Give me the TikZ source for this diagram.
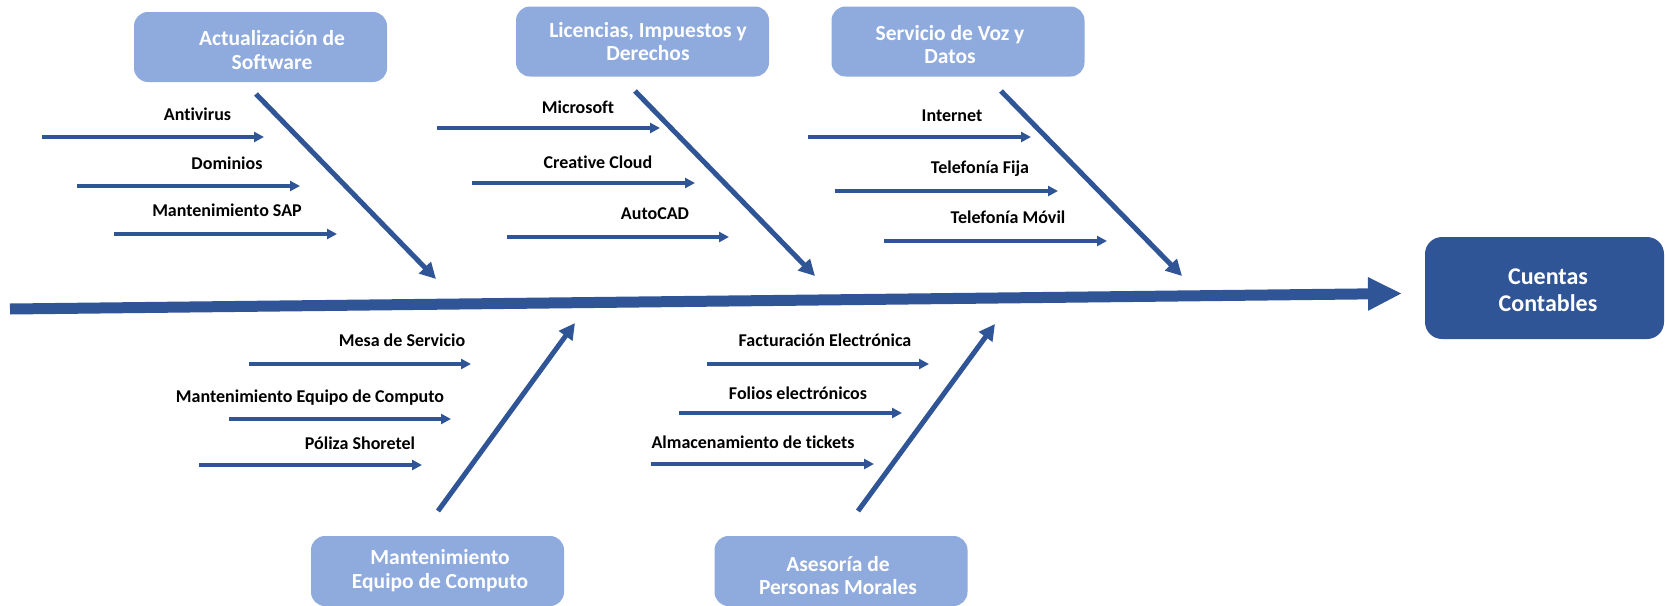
\documentclass[tikz,border=0pt]{standalone}
\usepackage{fontspec}
\setmainfont{Carlito}[Ligatures=NoCommon]
\usetikzlibrary{arrows.meta}
\definecolor{dblue}{HTML}{2F5597}
\definecolor{lblue}{HTML}{8FAADC}
\begin{document}
\begin{tikzpicture}[x=1pt,y=-1pt,
  catbox/.style={fill=lblue, draw=none, rounded corners=14pt, inner sep=0pt, minimum width=253pt, minimum height=70pt},
  effbox/.style={fill=dblue, draw=none, rounded corners=17pt, inner sep=0pt, minimum width=239pt, minimum height=102pt},
  cattext/.style={text=white, font=\fontsize{21.5}{23.5}\selectfont\bfseries, align=center, inner sep=0pt},
  efftext/.style={text=white, font=\fontsize{24}{26.5}\selectfont\bfseries, align=center, inner sep=0pt},
  lbl/.style={font=\fontsize{18}{20}\selectfont\bfseries, inner sep=0pt, anchor=base},
  sub/.style={draw=dblue, line width=3.2pt, -{Triangle[length=10pt,width=10pt]}},
  bone/.style={draw=dblue, line width=5pt, -{Triangle[length=16pt,width=16pt]}},
  spine/.style={draw=dblue, line width=11pt, -{Triangle[length=34pt,width=31pt]}}
]
\useasboundingbox (0,0) rectangle (1665,605);

% category boxes
\node[catbox] (bA) at (260.5,47) {};
\node[catbox] (bL) at (642.5,41.5) {};
\node[catbox] (bS) at (958,41.5) {};
\node[catbox] (bM) at (437.5,571) {};
\node[catbox] (bP) at (841,571) {};
\node[effbox] (bC) at (1544.5,288) {};

\node[cattext] (tA) at (272,50) {Actualización de\\Software};
\node[cattext] (tL) at (648,41.5) {Licencias, Impuestos y\\Derechos};
\node[cattext] (tS) at (950,44.5) {Servicio de Voz y\\Datos};
\node[cattext] (tM) at (440,570.5) {Mantenimiento\\Equipo de Computo};
\node[cattext] (tP) at (838,575.5) {Asesoría de\\Personas Morales};
\node[efftext] (tC) at (1548,290) {Cuentas\\Contables};

% spine
\coordinate (s0) at (10,309);
\coordinate (s1) at (1402,293.5);
\draw[spine] (s0) -- (s1);

% main bones
\foreach \n/\xa/\ya/\xb/\yb in {dA/256/94/436/279, dL/635/91/815/276, dS/1001/91/1182/276, dM/438/511/575/323, dP/858/511/995/324}{
  \coordinate (\n s) at (\xa,\ya);
  \coordinate (\n e) at (\xb,\yb);
  \draw[bone] (\n s) -- (\n e);
}

% sub causes
\foreach \n/\xa/\xb/\y in {a1/42/264/137, a2/77/300/186, a3/114/337/234,
  l1/437/660/128, l2/472/695/183, l3/507/729/237,
  s1/808/1031/137, s2/835/1058/191, s3/884/1107/241,
  m1/249/471/364, m2/229/451/419, m3/199/422/465,
  p1/707/929/364, p2/679/902/413, p3/651/874/464}{
  \coordinate (\n s) at (\xa,\y);
  \coordinate (\n e) at (\xb,\y);
  \draw[sub] (\n s) -- (\n e);
}

% labels
\node[lbl] (la1) at (197.5,120) {Antivirus};
\node[lbl] (la2) at (227,169) {Dominios};
\node[lbl] (la3) at (227,216) {Mantenimiento SAP};
\node[lbl] (ll1) at (578,113) {Microsoft};
\node[lbl] (ll2) at (598,168) {Creative Cloud};
\node[lbl] (ll3) at (655,219) {AutoCAD};
\node[lbl] (ls1) at (952,121) {Internet};
\node[lbl] (ls2) at (980,173) {Telefonía Fija};
\node[lbl] (ls3) at (1008,223) {Telefonía Móvil};
\node[lbl] (lm1) at (402,346) {Mesa de Servicio};
\node[lbl] (lm2) at (310,402) {Mantenimiento Equipo de Computo};
\node[lbl] (lm3) at (360,449) {Póliza Shoretel};
\node[lbl] (lp1) at (825,346) {Facturación Electrónica};
\node[lbl] (lp2) at (798,399) {Folios electrónicos};
\node[lbl] (lp3) at (753,448) {Almacenamiento de tickets};
\end{tikzpicture}
\end{document}
